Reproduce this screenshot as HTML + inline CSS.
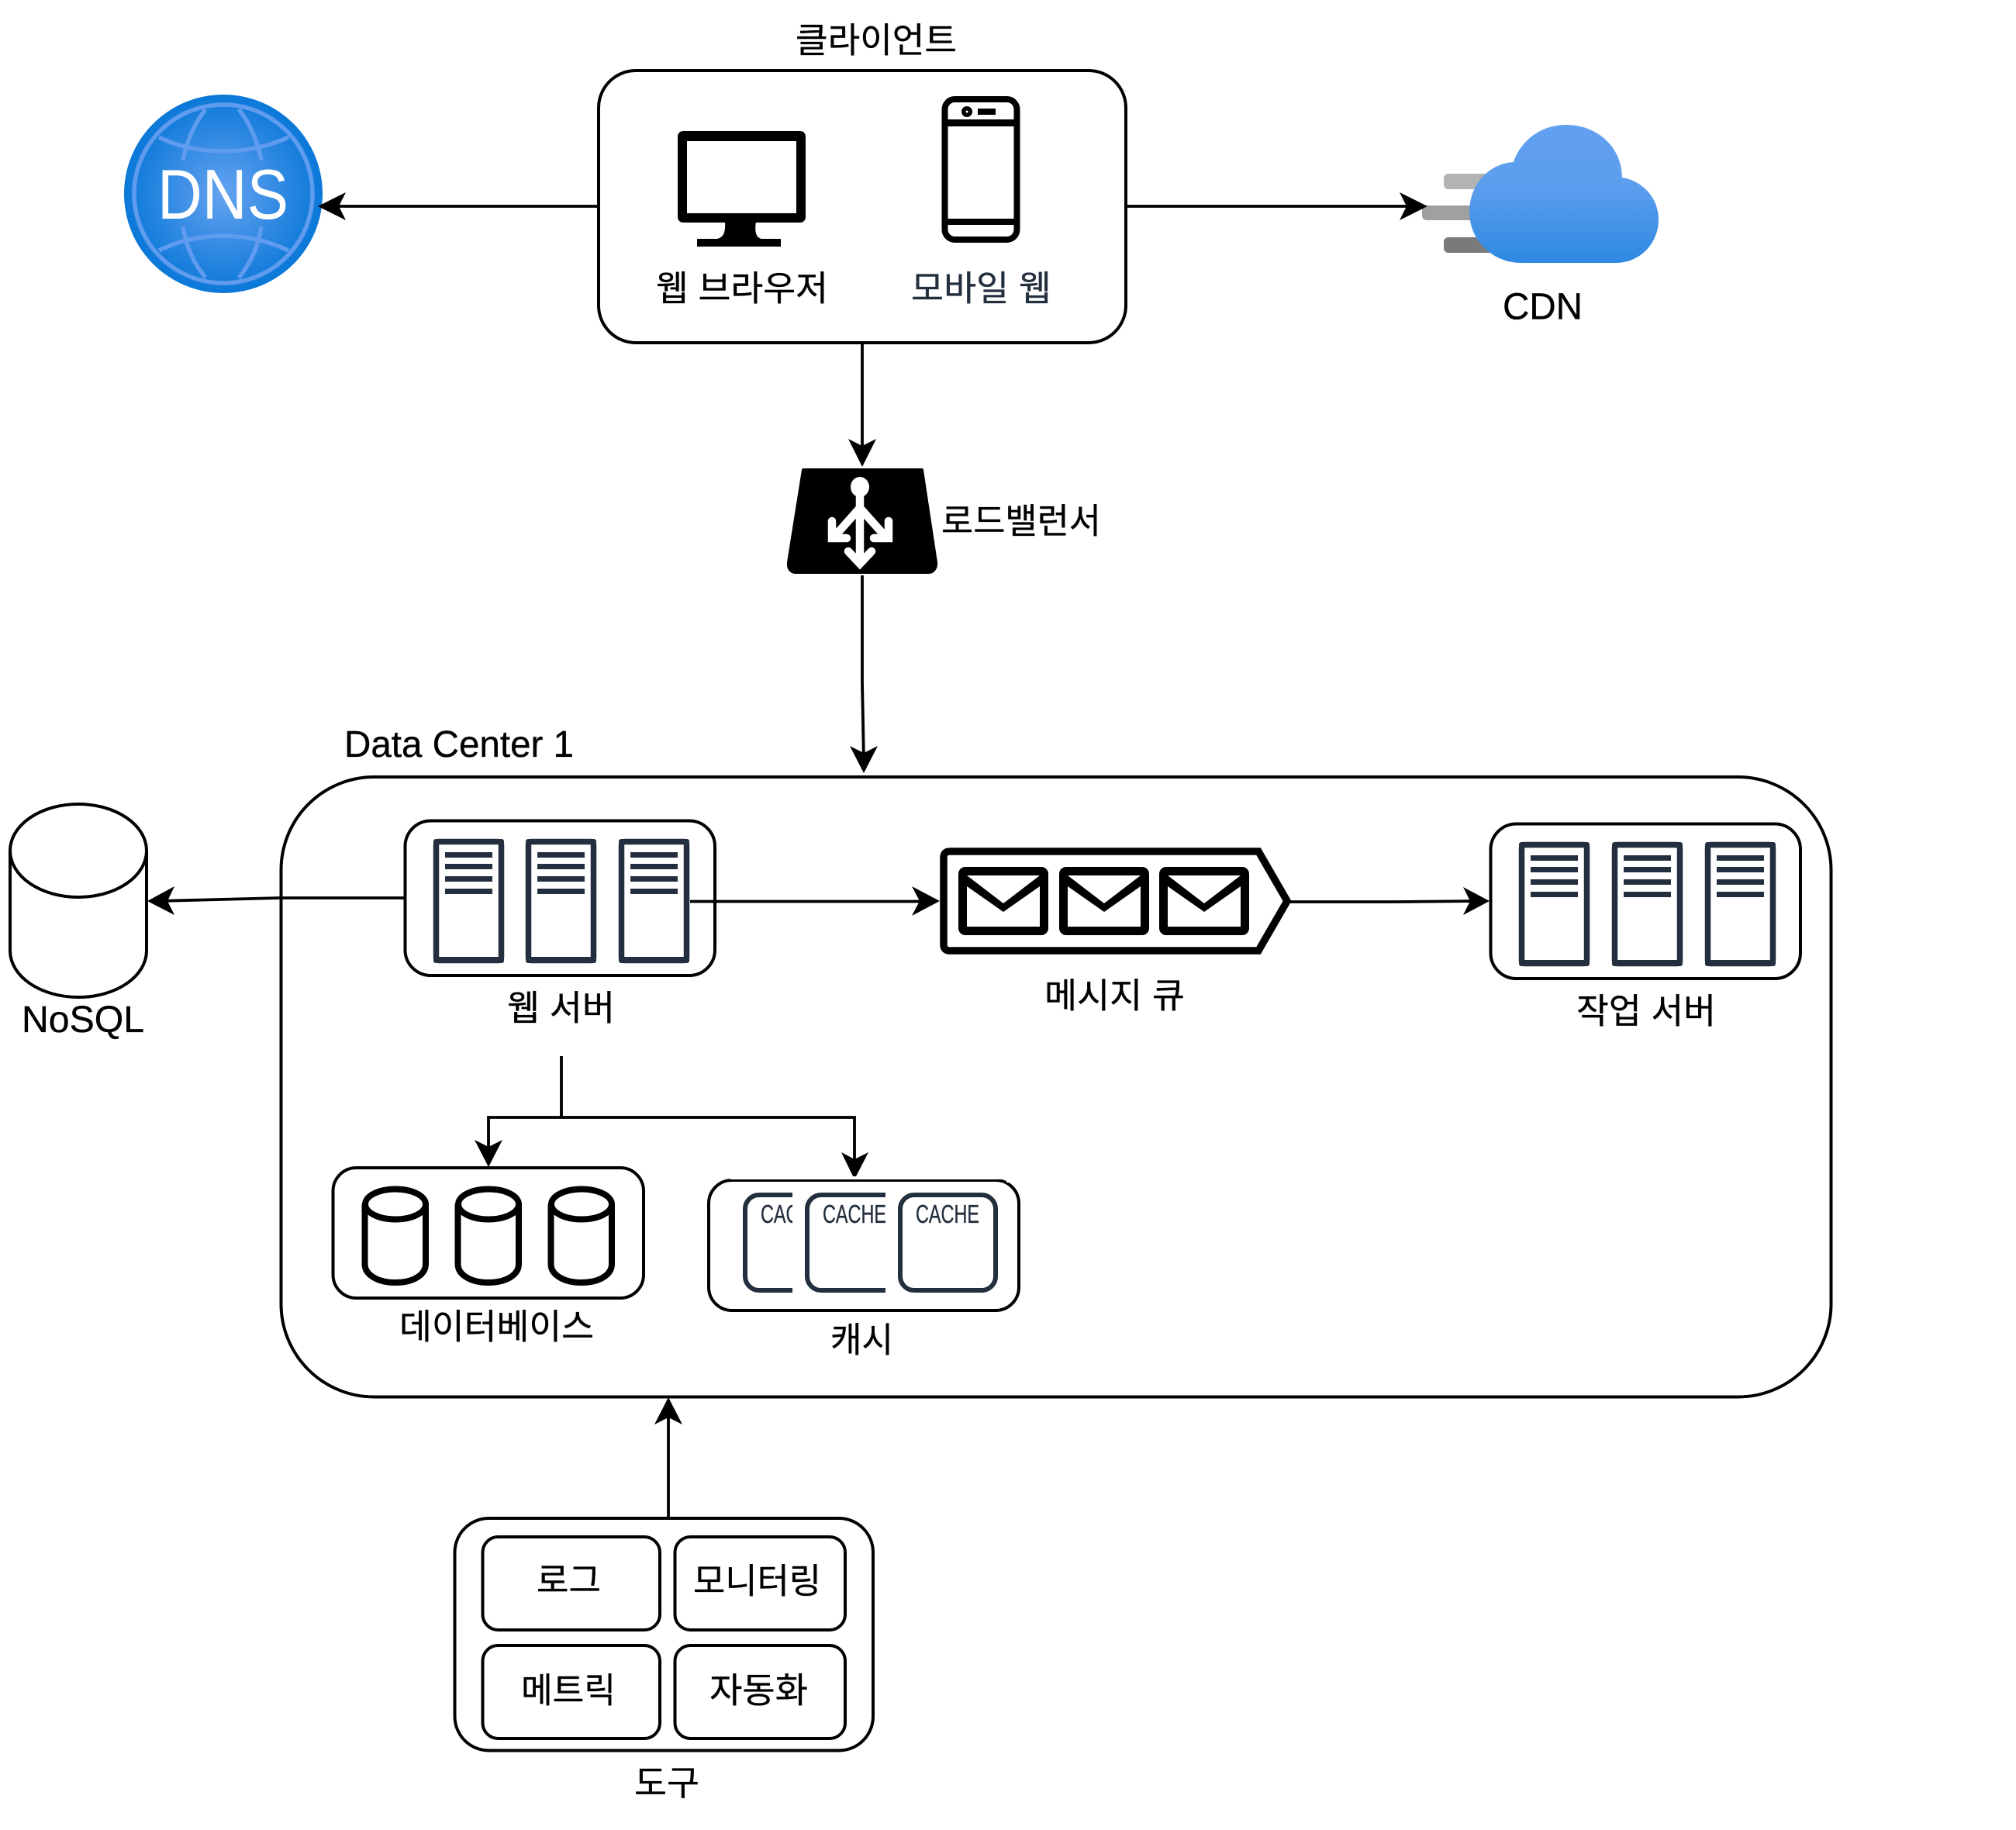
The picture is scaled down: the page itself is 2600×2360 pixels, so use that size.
<!DOCTYPE html>
<html lang="ko"><head><meta charset="utf-8"><title>diagram</title>
<style>
html,body{margin:0;padding:0;background:#fff}
svg{display:block}
text{font-family:"Liberation Sans","Noto Sans CJK KR",sans-serif;font-size:45px;fill:#000;stroke:#000;stroke-width:.35}
.en{font-size:48px}
.n{fill:none;stroke:#000;stroke-width:3.8}
.b{fill:#fff;stroke:#000;stroke-width:4}
</style></head><body>
<svg width="2600" height="2360" viewBox="0 0 2600 2360" xmlns="http://www.w3.org/2000/svg">
<defs>
<radialGradient id="dg" cx="288" cy="250" r="128" gradientUnits="userSpaceOnUse"><stop offset="0" stop-color="#65a2f0"/><stop offset="1" stop-color="#0a78d8"/></radialGradient>
<linearGradient id="cg" x1="0" y1="161" x2="0" y2="339" gradientUnits="userSpaceOnUse"><stop offset="0" stop-color="#62a0f0"/><stop offset=".45" stop-color="#5c9dee"/><stop offset="1" stop-color="#2d89e1"/></linearGradient>
<g id="srv">
<rect x="3.5" y="3.5" width="84" height="153" rx="4" fill="#fff" stroke="#232f3e" stroke-width="7.5"/>
<rect x="0" y="0" width="91" height="7" rx="3" fill="#232f3e"/>
<rect x="0" y="152" width="91" height="8" rx="3" fill="#232f3e"/>
<rect x="15" y="17" width="61" height="7" fill="#232f3e"/>
<rect x="15" y="32" width="61" height="7" fill="#232f3e"/>
<rect x="15" y="48" width="61" height="7" fill="#232f3e"/>
<rect x="15" y="64" width="61" height="7" fill="#232f3e"/>
</g>
<g id="cyl">
<path d="M3.5 23V100C3.5 114 20 124 43 124S82 114 82 100V23" fill="#fff" stroke="#000" stroke-width="8"/>
<ellipse cx="43" cy="23" rx="39" ry="19.5" fill="#fff" stroke="#000" stroke-width="8"/>
</g>
<g id="env">
<rect x="0" y="0" width="116" height="88" rx="9" fill="#000"/>
<polygon points="11,11 105,11 58,47" fill="#fff"/>
<polygon points="11,25 58,58 105,25 105,77 11,77" fill="#fff"/>
</g>
<clipPath id="c1"><rect x="950" y="1530" width="72" height="145"/></clipPath>
<clipPath id="c2"><rect x="1030" y="1530" width="112" height="145"/></clipPath>
</defs>

<rect width="2600" height="2360" fill="#fff"/>

<!-- DNS -->
<circle cx="288" cy="250" r="128" fill="url(#dg)"/>
<g fill="none" stroke="#5f9bee" stroke-width="5.5">
<circle cx="288" cy="250" r="115"/>
<path d="M205 177C255 201 320 201 372 177"/>
<path d="M205 323C255 298 320 298 372 323"/>
<path d="M265 141C250 160 240 185 236 207"/>
<path d="M308 141C323 160 333 185 337 207"/>
<path d="M236 292C240 318 250 340 265 358"/>
<path d="M337 292C333 318 323 340 308 358"/>
</g>
<text x="203" y="282" style="font-size:91px;fill:#fff;stroke:none" textLength="169" lengthAdjust="spacingAndGlyphs">DNS</text>

<!-- client -->
<text x="1026" y="67.5" textLength="208" lengthAdjust="spacingAndGlyphs">클라이언트</text>
<rect class="b" x="772" y="91" width="680" height="351" rx="48"/>
<rect x="874" y="169" width="165" height="118" rx="7" fill="#000"/>
<rect x="886" y="182" width="141" height="93" fill="#fff"/>
<path d="M935 285H975C973 300 975 306 982 308H1007V318H899V308H925C933 306 936 300 935 285Z" fill="#000"/>
<rect x="1218.5" y="128" width="93" height="181" rx="13" fill="#fff" stroke="#000" stroke-width="8"/>
<rect x="1218" y="154" width="96" height="9" fill="#000"/>
<rect x="1218" y="282" width="96" height="8" fill="#000"/>
<circle cx="1247" cy="144" r="5" fill="#000" stroke="#000" stroke-width="4"/>
<circle cx="1247" cy="144" r="1.5" fill="#fff"/>
<rect x="1261" y="140" width="23" height="8" fill="#000"/>
<text x="846" y="387.5" textLength="222" lengthAdjust="spacingAndGlyphs">웹 브라우저</text>
<text x="1175" y="387.5" textLength="181" lengthAdjust="spacingAndGlyphs" style="fill:#232f3e;stroke:#232f3e">모바일 웹</text>

<!-- CDN -->
<rect x="1862" y="224" width="70" height="20" rx="6" fill="#b3b3b3"/>
<rect x="1834" y="265" width="80" height="19" rx="6" fill="#a0a0a0"/>
<rect x="1862" y="306" width="70" height="20" rx="6" fill="#7a7a7a"/>
<path d="M1962 339C1925 339 1895 310 1895 273C1895 238 1920 211 1952 209C1962 180 1988 161 2020 161C2060 161 2092 190 2092 229C2118 233 2139 255 2139 283C2139 315 2114 339 2084 339Z" fill="url(#cg)"/>
<text class="en" x="1938" y="411.5" textLength="103" lengthAdjust="spacingAndGlyphs">CDN</text>

<!-- client connectors -->
<path class="n" d="M771 266H425"/>
<polygon points="410,266 446,248 437,266 446,284"/>
<path class="n" d="M1452 266H1825"/>
<polygon points="1841,266 1805,248 1814,266 1805,284"/>
<path class="n" d="M1112 442V585"/>
<polygon points="1112,602 1094,566 1112,575 1130,566"/>

<!-- LB -->
<path d="M1037 604H1189C1190 604 1191 605 1191 606L1209 725C1210 733 1205 740 1198 740H1026C1018 740 1014 733 1015 725L1034 606C1034 605 1035 604 1037 604Z" fill="#000"/>
<g fill="none" stroke="#fff" stroke-width="10.5">
<path d="M1109 628V726"/>
<path d="M1109 655L1076 692" stroke-linecap="butt"/>
<path d="M1109 655L1142 692" stroke-linecap="butt"/>
<path d="M1073 672V694H1092" stroke-linecap="round" stroke-linejoin="miter"/>
<path d="M1146 672V694H1127" stroke-linecap="round" stroke-linejoin="miter"/>
<path d="M1094 711L1109 727L1124 711" stroke-linecap="round"/>
</g>
<ellipse cx="1109" cy="628" rx="12" ry="13" fill="#fff"/>
<text x="1214" y="687.5" textLength="206" lengthAdjust="spacingAndGlyphs">로드밸런서</text>
<path class="n" d="M1112 742V880L1114 982"/>
<polygon points="1114,997 1096,962 1114,971 1132,962"/>

<!-- DC -->
<text class="en" x="444" y="976" textLength="296" lengthAdjust="spacingAndGlyphs">Data Center 1</text>
<rect class="b" x="362.5" y="1002" width="1999" height="799.5" rx="120"/>

<!-- NoSQL -->
<path class="b" d="M13 1097V1226C13 1259 52 1286 101 1286S189 1259 189 1226V1097"/>
<ellipse class="b" cx="101" cy="1097" rx="88" ry="60"/>
<text class="en" x="28" y="1331" textLength="158" lengthAdjust="spacingAndGlyphs">NoSQL</text>

<!-- web servers -->
<rect class="b" x="522.5" y="1058.5" width="399.5" height="199.5" rx="33"/>
<use href="#srv" x="559" y="1082"/>
<use href="#srv" x="678" y="1082"/>
<use href="#srv" x="798" y="1082"/>
<text x="654" y="1315.5" textLength="139" lengthAdjust="spacingAndGlyphs">웹 서버</text>
<path class="n" d="M523 1158H360L205 1162"/>
<polygon points="190,1162 225,1143 216,1162 225,1180"/>
<path class="n" d="M890 1162.5H1195"/>
<polygon points="1212,1162 1176,1143 1186,1162 1176,1181"/>

<!-- queue -->
<path d="M1225 1098H1623L1660 1162L1623 1226H1225Q1217 1226 1217 1218V1106Q1217 1098 1225 1098Z" fill="#fff" stroke="#000" stroke-width="9.5"/>
<use href="#env" x="1236" y="1118"/>
<use href="#env" x="1366" y="1118"/>
<use href="#env" x="1495" y="1118"/>
<text x="1347" y="1299.5" textLength="181" lengthAdjust="spacingAndGlyphs">메시지 큐</text>
<path class="n" d="M1664 1163H1800L1905 1162"/>
<polygon points="1921,1162 1887,1144 1896,1162 1887,1180"/>

<!-- worker -->
<rect class="b" x="1922.5" y="1062.5" width="399.5" height="199.5" rx="33"/>
<use href="#srv" x="1959" y="1086"/>
<use href="#srv" x="2079" y="1086"/>
<use href="#srv" x="2199" y="1086"/>
<text x="2033" y="1319.5" textLength="180" lengthAdjust="spacingAndGlyphs">작업 서버</text>

<!-- branch -->
<path class="n" d="M724 1362V1441"/>
<path class="n" d="M630 1490V1441H1102V1505"/>
<polygon points="630,1505 612,1470 630,1479 648,1470"/>
<polygon points="1102,1521 1085,1486 1102,1495 1120,1486"/>

<!-- DB -->
<rect class="b" x="429.5" y="1506" width="400.5" height="168" rx="30"/>
<use href="#cyl" x="467" y="1530"/>
<use href="#cyl" x="587" y="1530"/>
<use href="#cyl" x="707" y="1530"/>
<text x="515" y="1726.5" textLength="251" lengthAdjust="spacingAndGlyphs">데이터베이스</text>

<!-- cache -->
<rect class="b" x="914" y="1522" width="400" height="168" rx="30"/>
<rect x="942" y="1517" width="356" height="4" fill="#fff"/>
<rect x="1298" y="1517" width="9" height="8" fill="#fff"/>
<g fill="none" stroke="#232f3e" stroke-width="6">
<rect x="961" y="1541" width="123" height="123" rx="18" clip-path="url(#c1)"/>
<rect x="1041" y="1541" width="123" height="123" rx="18" clip-path="url(#c2)"/>
<rect x="1161" y="1541" width="123" height="123" rx="18"/>
</g>
<text x="981" y="1577" style="font-size:33px;fill:#232f3e;stroke:#232f3e" textLength="82" lengthAdjust="spacingAndGlyphs" clip-path="url(#c1)">CACHE</text>
<text x="1061" y="1577" style="font-size:33px;fill:#232f3e;stroke:#232f3e" textLength="82" lengthAdjust="spacingAndGlyphs" clip-path="url(#c2)">CACHE</text>
<text x="1181" y="1577" style="font-size:33px;fill:#232f3e;stroke:#232f3e" textLength="82" lengthAdjust="spacingAndGlyphs">CACHE</text>
<text x="1071" y="1743.5" textLength="81" lengthAdjust="spacingAndGlyphs">캐시</text>

<!-- tools -->
<path class="n" d="M862 1958V1818"/>
<polygon points="862,1802 844,1837 862,1828 880,1837"/>
<rect class="b" x="586.5" y="1958" width="539.5" height="299.5" rx="44"/>
<rect class="b" x="622.5" y="1982" width="228.5" height="120" rx="20"/>
<rect class="b" x="870.5" y="1982" width="219.5" height="120" rx="20"/>
<rect class="b" x="622.5" y="2122" width="228.5" height="120" rx="20"/>
<rect class="b" x="870.5" y="2122" width="219.5" height="120" rx="20"/>
<text x="692" y="2053.5" textLength="83" lengthAdjust="spacingAndGlyphs">로그</text>
<text x="894" y="2054.5" textLength="165" lengthAdjust="spacingAndGlyphs">모니터링</text>
<text x="672" y="2195.5" textLength="122" lengthAdjust="spacingAndGlyphs">메트릭</text>
<text x="915" y="2195.5" textLength="127" lengthAdjust="spacingAndGlyphs">자동화</text>
<text x="818" y="2315" textLength="84" lengthAdjust="spacingAndGlyphs">도구</text>
</svg>
</body></html>
